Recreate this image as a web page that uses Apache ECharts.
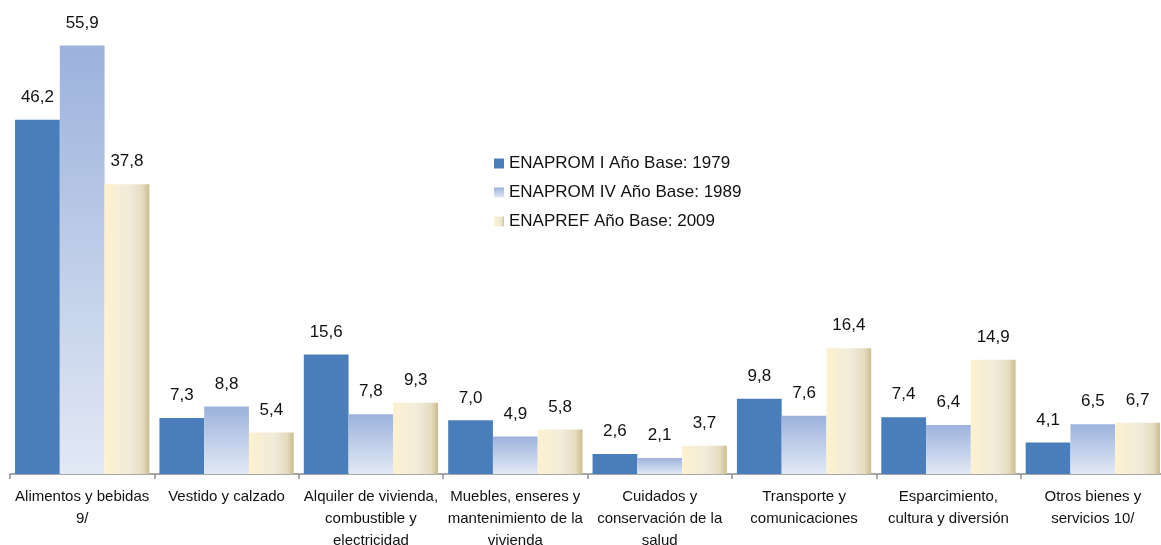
<!DOCTYPE html>
<html>
<head>
<meta charset="utf-8">
<title>Estructura del gasto</title>
<script src="https://cdn.jsdelivr.net/npm/echarts@6/dist/echarts.min.js"></script>
<style>
  html, body { margin: 0; padding: 0; background: #fff; }
  #chart { width: 1161px; height: 545px; }
</style>
</head>
<body>
<div id="chart"></div>
<script>
// categories (x axis)
const categories = [
  'Alimentos y bebidas\n9/',
  'Vestido y calzado',
  'Alquiler de vivienda,\ncombustible y\nelectricidad',
  'Muebles, enseres y\nmantenimiento de la\nvivienda',
  'Cuidados y\nconservación de la\nsalud',
  'Transporte y\ncomunicaciones',
  'Esparcimiento,\ncultura y diversión',
  'Otros bienes y\nservicios 10/'
];

const seriesNames = [
  'ENAPROM I Año Base: 1979',
  'ENAPROM IV Año Base: 1989',
  'ENAPREF Año Base: 2009'
];

const enaprom1979 = [46.2, 7.3, 15.6, 7.0, 2.6, 9.8, 7.4, 4.1];
const enaprom1989 = [55.9, 8.8, 7.8, 4.9, 2.1, 7.6, 6.4, 6.5];
const enapref2009 = [37.8, 5.4, 9.3, 5.8, 3.7, 16.4, 14.9, 6.7];

const font = '"Liberation Sans", Arial, sans-serif';

const chart = echarts.init(document.getElementById('chart'));

const blueFill = '#4a7ebb';
const lightBlueFill = new echarts.graphic.LinearGradient(0, 0, 0, 1, [
  { offset: 0, color: '#9cb2dc' },
  { offset: 1, color: '#e2e9f5' }
]);
const creamFill = new echarts.graphic.LinearGradient(0, 0, 1, 0, [
  { offset: 0, color: '#fdf1cf' },
  { offset: 0.55, color: '#f0ebda' },
  { offset: 0.85, color: '#e5dbbf' },
  { offset: 1, color: '#cdbb8e' }
]);

function fmt(p) {
  return p.value.toFixed(1).replace('.', ',');
}

function makeSeries(name, data, color) {
  return {
    name: name,
    type: 'bar',
    data: data,
    barGap: '0%',
    barCategoryGap: '7%',
    itemStyle: { color: color },
    label: {
      show: true,
      position: 'top',
      distance: 14,
      formatter: fmt,
      fontFamily: font,
      fontSize: 17,
      color: '#111'
    },
    animation: false
  };
}

chart.setOption({
  backgroundColor: '#fff',
  textStyle: { fontFamily: font },
  grid: {
    left: 10,
    right: -4,
    top: 14,
    bottom: 71,
    containLabel: false,
    outerBoundsMode: 'none'
  },
  legend: {
    orient: 'vertical',
    left: 494,
    top: 155,
    padding: 0,
    itemWidth: 10,
    itemHeight: 10,
    itemGap: 12,
    icon: 'rect',
    textStyle: { fontFamily: font, fontSize: 17, color: '#111' },
    data: seriesNames
  },
  xAxis: {
    type: 'category',
    data: categories,
    axisLine: { lineStyle: { color: '#8c8c8c', width: 1.5 } },
    axisTick: { show: true, length: 5, lineStyle: { color: '#8c8c8c', width: 1.5 } },
    axisLabel: {
      interval: 0,
      margin: 12,
      fontFamily: font,
      fontSize: 15,
      lineHeight: 22,
      color: '#111'
    }
  },
  yAxis: {
    type: 'value',
    min: 0,
    max: 60,
    show: false,
    splitLine: { show: false }
  },
  series: [
    makeSeries(seriesNames[0], enaprom1979, blueFill),
    makeSeries(seriesNames[1], enaprom1989, lightBlueFill),
    makeSeries(seriesNames[2], enapref2009, creamFill)
  ]
});
</script>
</body>
</html>
